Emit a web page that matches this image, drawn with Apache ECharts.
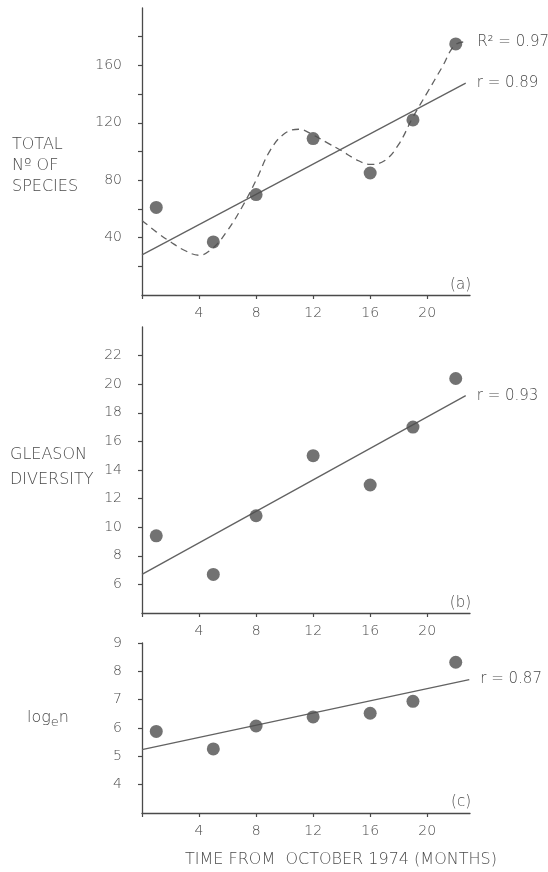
<!DOCTYPE html>
<html>
<head>
<meta charset="utf-8">
<script src="https://cdn.jsdelivr.net/npm/echarts@6/dist/echarts.min.js"></script>
<style>
  html, body { margin: 0; padding: 0; background: #ffffff; }
  #chart { width: 548px; height: 872px; }
</style>
</head>
<body>
<div id="chart"></div>
<script>
// Sampling times (months from October 1974)
const months = [1, 5, 8, 12, 16, 19, 22];

// (a) total number of species
const totalSpecies = [61, 37, 70, 109, 85, 122, 175];
// (b) Gleason diversity index
const gleasonDiversity = [9.4, 6.7, 10.8, 15.0, 12.95, 17.0, 20.4];
// (c) natural log of individuals
const logIndividuals = [5.88, 5.26, 6.07, 6.39, 6.52, 6.94, 8.32];

// Linear regression lines (start and end points)
const fitSpecies = [[0, 28], [22.7, 147.6]];
const fitGleason = [[0, 6.7], [22.7, 19.2]];
const fitLog = [[0, 5.24], [22.95, 7.71]];

// Polynomial fit for total species (dashed curve)
const polyX = [0, 1, 2, 3, 4, 5, 6, 7, 8, 9, 10, 11, 12, 13, 14, 15, 16, 17, 18, 19, 20, 21, 22, 22.8];
const polyY = [52, 44, 37, 31, 27.7, 33, 45, 61, 80, 101, 112.5, 115.5, 111.5, 106, 100.5, 94.5, 91, 93.5, 105, 124, 141, 158, 174.6, 176.5];

// Fit statistics
const statSpecies = ['R² = 0.97', 'r = 0.89'];
const statGleason = 'r = 0.93';
const statLog = 'r = 0.87';

// Axis ticks and labels
const monthTicks = [0, 4, 8, 12, 16, 20];
const monthLabels = [4, 8, 12, 16, 20];
const speciesTicks = [20, 40, 60, 80, 100, 120, 140, 160, 180];
const speciesLabels = [40, 80, 120, 160];
const gleasonTicks = [6, 8, 10, 12, 14, 16, 18, 20, 22];
const logTicks = [4, 5, 6, 7, 8, 9];

const INK = '#4a4a4a';
const FONT = '"DejaVu Sans", Roboto, sans-serif';

const zip = (xs, ys) => xs.map((x, i) => [x, ys[i]]);

const tickLabel = { color: INK, fontFamily: FONT, fontSize: 14, fontWeight: 200 };

function xAxisFor(gridIndex) {
  return {
    type: 'value', gridIndex, min: 0, max: 23,
    axisLine: { show: true, lineStyle: { color: INK, width: 1.3 } },
    axisTick: { show: true, length: 4, lineStyle: { color: INK, width: 1.2 }, customValues: monthTicks },
    axisLabel: Object.assign({ margin: 11, customValues: monthLabels }, tickLabel),
    splitLine: { show: false }
  };
}
function yAxisFor(gridIndex, min, max, ticks, labels) {
  return {
    type: 'value', gridIndex, min, max,
    axisLine: { show: true, lineStyle: { color: INK, width: 1.3 } },
    axisTick: { show: true, length: 4, lineStyle: { color: INK, width: 1.2 }, customValues: ticks },
    axisLabel: Object.assign({ margin: 20, customValues: labels }, tickLabel),
    splitLine: { show: false }
  };
}
function dots(idx, values) {
  return {
    type: 'scatter', xAxisIndex: idx, yAxisIndex: idx, data: zip(months, values),
    symbol: 'circle', symbolSize: 13, itemStyle: { color: '#4f4f4f' }, z: 5, silent: true
  };
}
function fitLine(idx, data, text, dashed) {
  return {
    type: 'line', xAxisIndex: idx, yAxisIndex: idx, data,
    showSymbol: false, symbol: 'none', silent: true, z: 3,
    smooth: dashed ? 0.4 : false,
    lineStyle: { color: '#626262', width: 1.3, type: dashed ? [7, 5] : 'solid' },
    endLabel: {
      show: true, formatter: text, color: INK, fontFamily: FONT,
      fontSize: 15, fontWeight: 200, distance: dashed ? 10 : 11
    }
  };
}

const grids = [
  { left: 142, width: 328, top: 8, height: 287 },
  { left: 142, width: 328, top: 327, height: 286 },
  { left: 142, width: 328, top: 643, height: 170 }
].map(g => Object.assign({ containLabel: false, outerBoundsMode: 'none' }, g));

const textEl = (text, x, y, size, extra) => ({
  type: 'text', x, y, silent: true,
  style: Object.assign({
    text, fill: INK, font: '200 ' + size + 'px ' + FONT, align: 'left', verticalAlign: 'middle'
  }, extra || {})
});

const option = {
  animation: false,
  backgroundColor: '#ffffff',
  grid: grids,
  xAxis: [xAxisFor(0), xAxisFor(1), xAxisFor(2)],
  yAxis: [
    yAxisFor(0, 0, 200, speciesTicks, speciesLabels),
    yAxisFor(1, 4, 24, gleasonTicks, gleasonTicks),
    yAxisFor(2, 3, 9, logTicks, logTicks)
  ],
  series: [
    fitLine(0, zip(polyX, polyY), statSpecies[0], true),
    fitLine(0, fitSpecies, statSpecies[1], false),
    dots(0, totalSpecies),
    fitLine(1, fitGleason, statGleason, false),
    dots(1, gleasonDiversity),
    fitLine(2, fitLog, statLog, false),
    dots(2, logIndividuals)
  ],
  graphic: [
    textEl('TOTAL\nNº OF\nSPECIES', 12, 166, 16, { lineHeight: 21 }),
    textEl('GLEASON\nDIVERSITY', 10, 467, 16, { lineHeight: 25 }),
    textEl('log{e|e}n', 27, 718, 16, {
      rich: { e: { fontSize: 13, fontFamily: FONT, fontWeight: 200, fill: INK, padding: [9, 0, 0, 0] } }
    }),
    textEl('(a)', 471, 285, 15, { align: 'right' }),
    textEl('(b)', 471, 603, 15, { align: 'right' }),
    textEl('(c)', 471, 802, 15, { align: 'right' }),
    textEl('TIME FROM  OCTOBER 1974 (MONTHS)', 185, 860, 16)
  ]
};

const chart = echarts.init(document.getElementById('chart'), null, { renderer: 'canvas' });
chart.setOption(option);
</script>
</body>
</html>
